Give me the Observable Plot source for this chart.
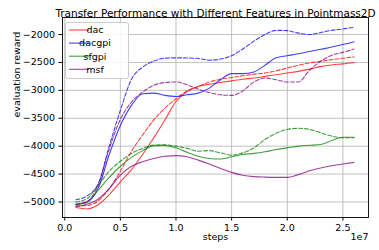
<!DOCTYPE html>
<html>
<head>
<meta charset="utf-8">
<script src="https://cdn.jsdelivr.net/npm/d3@7"></script>
<script src="https://cdn.jsdelivr.net/npm/@observablehq/plot@0.6"></script>
<style>
  html, body { margin: 0; padding: 0; background: white; }
  #chart { width: 379px; height: 250px; overflow: hidden; }
</style>
</head>
<body>
<div id="chart"></div>
<script>
// steps, in units of 1e7
const steps = [0.1,0.2,0.3,0.4,0.5,0.6,0.7,0.8,0.9,1.0,1.1,1.2,1.3,1.4,1.5,1.6,1.7,1.8,1.9,2.0,2.1,2.2,2.3,2.4,2.5,2.6];

const dacSolid    = [-5100,-5125,-5050,-4870,-4640,-4420,-4150,-3850,-3530,-3200,-3020,-2930,-2890,-2860,-2830,-2800,-2780,-2750,-2720,-2690,-2660,-2620,-2575,-2545,-2525,-2500];
const dacDashed   = [-5070,-5065,-4980,-4760,-4450,-4090,-3800,-3530,-3320,-3150,-3010,-2930,-2850,-2800,-2770,-2740,-2710,-2690,-2650,-2600,-2550,-2510,-2480,-2450,-2425,-2400];
const dacgpiSolid = [-5040,-5000,-4760,-4150,-3630,-3270,-3060,-3050,-3090,-3110,-3080,-3050,-2960,-2810,-2700,-2700,-2670,-2550,-2415,-2380,-2345,-2305,-2265,-2225,-2180,-2130];
const dacgpiDashed= [-4960,-4890,-4680,-4000,-3360,-2800,-2585,-2478,-2424,-2418,-2420,-2430,-2460,-2440,-2380,-2260,-2120,-2000,-1925,-1930,-1975,-2000,-1965,-1925,-1900,-1870];
const sfgpiSolid  = [-5050,-5010,-4790,-4560,-4360,-4200,-4080,-3990,-3985,-4030,-4110,-4180,-4220,-4230,-4190,-4150,-4130,-4100,-4060,-4030,-4000,-3985,-3970,-3900,-3840,-3840];
const sfgpiDashed = [-5000,-4940,-4700,-4450,-4270,-4130,-4040,-3980,-3975,-4000,-4040,-4090,-4080,-4120,-4160,-4120,-4030,-3880,-3770,-3700,-3680,-3700,-3760,-3820,-3850,-3850];
const msfSolid    = [-5080,-5040,-4950,-4760,-4520,-4360,-4280,-4220,-4180,-4170,-4190,-4250,-4320,-4400,-4470,-4520,-4545,-4555,-4560,-4560,-4510,-4440,-4390,-4350,-4320,-4290];
const msfDashed   = [-5040,-4990,-4700,-4050,-3520,-3210,-3030,-2910,-2860,-2850,-2900,-2980,-3040,-3080,-3090,-3010,-2850,-2780,-2810,-2850,-2850,-2640,-2480,-2370,-2320,-2260];

const methods = ["dac", "dacgpi", "sfgpi", "msf"];
const colors  = ["#ff0000", "#0000ff", "#008000", "#800080"];
const solidSeries  = [dacSolid, dacgpiSolid, sfgpiSolid, msfSolid];
const dashedSeries = [dacDashed, dacgpiDashed, sfgpiDashed, msfDashed];

const xTicks = [0, 0.5, 1.0, 1.5, 2.0, 2.5];
const yTicks = [-5000, -4500, -4000, -3500, -3000, -2500, -2000];

const title = "Transfer Performance with Different Features in Pointmass2D";
const xLabel = "steps";
const xExponent = "1e7";
const yLabel = "evaluation reward";

const toRows = (vals) => steps.map((s, i) => ({step: s, value: vals[i]}));

const lineMarks = [];
methods.forEach((m, i) => {
  lineMarks.push(Plot.line(toRows(dashedSeries[i]), {
    x: "step", y: "value", stroke: colors[i], strokeWidth: 1.1, strokeOpacity: 0.75,
    strokeDasharray: "4,2", curve: "monotone-x"
  }));
  lineMarks.push(Plot.line(toRows(solidSeries[i]), {
    x: "step", y: "value", stroke: colors[i], strokeWidth: 1.1, strokeOpacity: 0.75,
    curve: "monotone-x"
  }));
});

function legendMark() {
  const g = d3.create("svg:g");
  g.append("rect")
    .attr("x", 65.5).attr("y", 22.5).attr("width", 63).attr("height", 56)
    .attr("rx", 2).attr("fill", "white").attr("fill-opacity", 0.85)
    .attr("stroke", "#cccccc").attr("stroke-width", 1);
  methods.forEach((m, i) => {
    const y = 30 + i * 13.1;
    g.append("line").attr("x1", 69).attr("x2", 89).attr("y1", y).attr("y2", y)
      .attr("stroke", colors[i]).attr("stroke-opacity", 0.75).attr("stroke-width", 1.1);
    g.append("text").attr("x", 95).attr("y", y).attr("dy", "0.35em")
      .attr("fill", "black").attr("font-size", 9.5).attr("font-family", "DejaVu Sans")
      .text(m);
  });
  return g.node();
}

const chart = Plot.plot({
  width: 379,
  height: 250,
  marginLeft: 62,
  marginRight: 11,
  marginTop: 17,
  marginBottom: 33,
  style: { fontFamily: "DejaVu Sans", fontSize: "9.5px", color: "black", background: "white" },
  x: { domain: [-0.02, 2.73] },
  y: { domain: [-5278, -1695] },
  marks: [
    Plot.gridX(xTicks, { stroke: "#b0b0b0", strokeOpacity: 1, strokeWidth: 0.8 }),
    Plot.gridY(yTicks, { stroke: "#b0b0b0", strokeOpacity: 1, strokeWidth: 0.8 }),
    ...lineMarks,
    Plot.frame({ stroke: "black", strokeWidth: 0.9 }),
    Plot.axisX(xTicks, { tickSize: 3.5, tickPadding: 3, tickFormat: d3.format(".1f"), label: null }),
    Plot.axisY(yTicks, { tickSize: 3.5, tickPadding: 4, tickFormat: d3.format("d"), label: null }),
    Plot.text([title], { frameAnchor: "top", dy: -8, fontSize: 10.5, fill: "black" }),
    Plot.text([yLabel], { frameAnchor: "left", dx: -46, rotate: -90, fontSize: 9.5, fill: "black" }),
    Plot.text([xLabel], { frameAnchor: "bottom", dy: 22, fontSize: 9.5, fill: "black" }),
    Plot.text([xExponent], { frameAnchor: "bottom-right", dy: 22, textAnchor: "end", fontSize: 9.5, fill: "black" }),
    legendMark
  ]
});
document.getElementById("chart").appendChild(chart);
</script>
</body>
</html>
